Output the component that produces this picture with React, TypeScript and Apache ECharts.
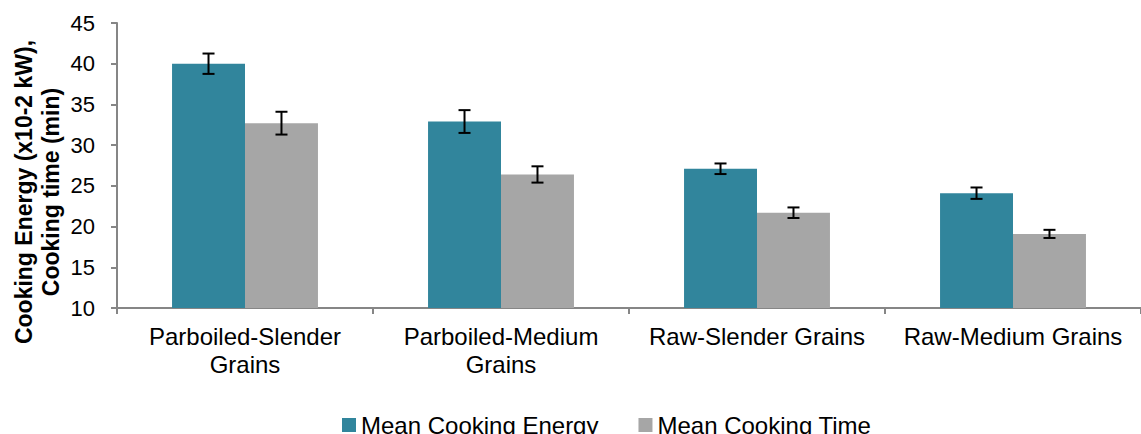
import React, { useEffect, useRef } from "react";
import * as echarts from "echarts";

// Rice grain types on the category axis
const categories = [
  "Parboiled-Slender\nGrains",
  "Parboiled-Medium\nGrains",
  "Raw-Slender Grains",
  "Raw-Medium Grains",
];

// Mean cooking energy (x10-2 kW) and its error margin
const energyMeans = [40.0, 32.9, 27.1, 24.1];
const energyErrors = [1.25, 1.4, 0.65, 0.7];

// Mean cooking time (min) and its error margin
const timeMeans = [32.7, 26.4, 21.7, 19.1];
const timeErrors = [1.4, 1.0, 0.65, 0.5];

// Y axis ticks
const yMin = 10;
const yMax = 45;
const yStep = 5;

const ENERGY_COLOR = "#31859C";
const TIME_COLOR = "#A6A6A6";
const AXIS_COLOR = "#868686";
const FONT = "'Liberation Sans', Arial, sans-serif";
const BAR_SHARE = 0.285; // each bar's share of a category band

function errorSeries(means: number[], errs: number[], side: number) {
  return {
    type: "custom",
    silent: true,
    z: 5,
    data: means.map((m, i) => [i, m - errs[i], m + errs[i]]),
    renderItem: (params: any, api: any) => {
      const idx = api.value(0);
      const band = api.size([1, 0])[0];
      const offset = (side * band * BAR_SHARE) / 2;
      const lo = api.coord([idx, api.value(1)]);
      const hi = api.coord([idx, api.value(2)]);
      const x = lo[0] + offset;
      const cap = 6;
      const style = { stroke: "#000", lineWidth: 2, fill: "none" };
      return {
        type: "group",
        children: [
          { type: "line", shape: { x1: x, y1: hi[1], x2: x, y2: lo[1] }, style },
          { type: "line", shape: { x1: x - cap, y1: hi[1], x2: x + cap, y2: hi[1] }, style },
          { type: "line", shape: { x1: x - cap, y1: lo[1], x2: x + cap, y2: lo[1] }, style },
        ],
      };
    },
  };
}

export default function App() {
  const ref = useRef<HTMLDivElement>(null);

  useEffect(() => {
    document.body.style.margin = "0";
    if (!ref.current) return;
    const chart = echarts.init(ref.current, undefined, { renderer: "svg" });
    chart.setOption({
      animation: false,
      backgroundColor: "#fff",
      textStyle: { fontFamily: FONT },
      grid: { left: 117, right: -9, top: 23, bottom: 126 },
      legend: {
        data: ["Mean Cooking Energy", "Mean Cooking Time"],
        left: 337,
        top: 408,
        icon: "rect",
        itemWidth: 14,
        itemHeight: 14,
        itemGap: 40,
        textStyle: { fontSize: 24, color: "#000", fontFamily: FONT },
      },
      xAxis: {
        type: "category",
        data: categories,
        axisLine: { lineStyle: { color: AXIS_COLOR, width: 2 } },
        axisTick: { show: true, length: 6, lineStyle: { color: AXIS_COLOR, width: 2 } },
        axisLabel: {
          color: "#000",
          fontSize: 24,
          lineHeight: 28,
          margin: 14,
          interval: 0,
          fontFamily: FONT,
        },
      },
      yAxis: {
        type: "value",
        min: yMin,
        max: yMax,
        interval: yStep,
        splitLine: { show: false },
        axisLine: { show: true, lineStyle: { color: AXIS_COLOR, width: 2 } },
        axisTick: { show: true, length: 6, lineStyle: { color: AXIS_COLOR, width: 2 } },
        axisLabel: { color: "#000", fontSize: 22, margin: 22, fontFamily: FONT },
      },
      graphic: [
        {
          type: "text",
          x: 37,
          y: 192,
          rotation: Math.PI / 2,
          style: {
            text: "Cooking Energy (x10-2 kW),\nCooking time (min)",
            font: `bold 23px ${FONT}`,
            fill: "#000",
            align: "center",
            verticalAlign: "middle",
            lineHeight: 27,
          },
        },
      ],
      series: [
        {
          name: "Mean Cooking Energy",
          type: "bar",
          data: energyMeans,
          barWidth: `${BAR_SHARE * 100}%`,
          barGap: "0%",
          itemStyle: { color: ENERGY_COLOR },
        },
        {
          name: "Mean Cooking Time",
          type: "bar",
          data: timeMeans,
          barWidth: `${BAR_SHARE * 100}%`,
          barGap: "0%",
          itemStyle: { color: TIME_COLOR },
        },
        errorSeries(energyMeans, energyErrors, -1),
        errorSeries(timeMeans, timeErrors, 1),
      ],
    });
    return () => chart.dispose();
  }, []);

  return <div ref={ref} style={{ width: 1141, height: 434 }} />;
}
